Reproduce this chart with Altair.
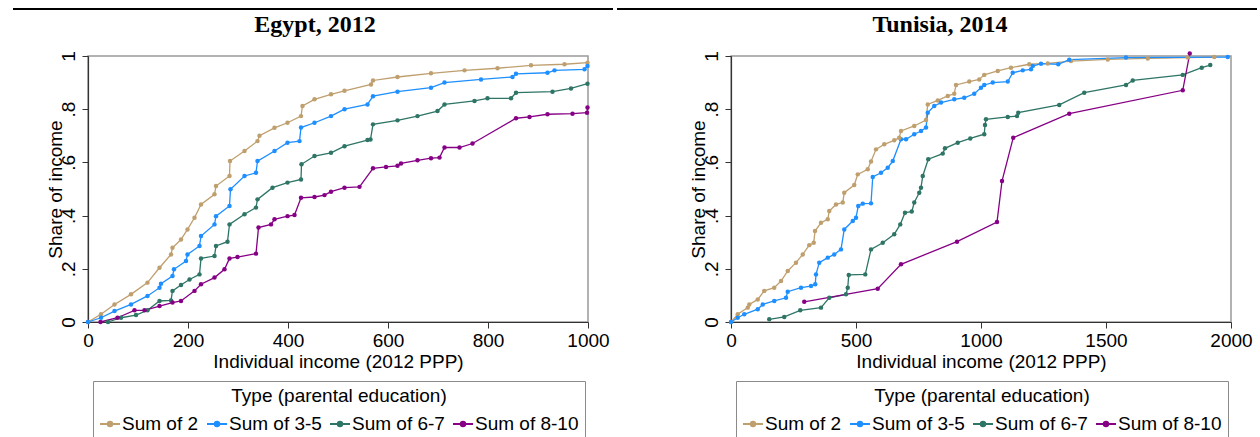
import altair as alt
import pandas as pd

types = ["Sum of 2", "Sum of 3-5", "Sum of 6-7", "Sum of 8-10"]
colors = ["#BF9F6E", "#1E8FFF", "#2E7566", "#860086"]

# ---------------- Egypt, 2012 ----------------
egy_2_x = [0, 26, 53, 86, 119, 143, 166, 169, 186, 199, 213, 226, 253, 256, 283, 284, 313, 339, 343, 373,
           399, 426, 429, 453, 486, 513, 566, 570, 619, 686, 753, 819, 886, 953, 999]
egy_2_y = [0, .029, .066, .104, .148, .204, .254, .279, .31, .348, .392, .442, .48, .511, .549, .605, .643, .68, .70, .73,
           .749, .774, .812, .837, .856, .869, .893, .908, .921, .935, .946, .954, .965, .969, .975]

egy_35_x = [0, 26, 53, 86, 119, 143, 146, 169, 172, 196, 199, 223, 226, 253, 256, 283, 285, 313, 336, 339,
            373, 399, 423, 426, 453, 486, 513, 559, 570, 619, 686, 713, 786, 849, 856, 919, 933, 993, 999]
egy_35_y = [0, .016, .041, .066, .098, .129, .144, .173, .198, .229, .254, .286, .323, .367, .398, .436, .499, .549, .561, .605,
            .643, .674, .680, .731, .749, .774, .800, .818, .849, .866, .881, .900, .912, .921, .933, .937, .946, .950, .962]

egy_67_x = [40, 66, 96, 119, 143, 166, 169, 186, 203, 223, 226, 253, 256, 279, 283, 313, 336, 339, 369, 399,
            426, 427, 453, 486, 513, 559, 565, 570, 619, 659, 699, 713, 773, 799, 846, 856, 929, 966, 999]
egy_67_y = [0, .016, .026, .044, .079, .081, .117, .139, .160, .179, .239, .248, .286, .302, .367, .405, .430, .461, .505, .524,
            .536, .593, .624, .636, .661, .684, .686, .743, .758, .774, .793, .818, .831, .841, .841, .862, .866, .878, .896]

egy_810_x = [25, 59, 93, 113, 143, 169, 186, 213, 226, 253, 273, 283, 299, 336, 341, 366, 373, 399, 413, 426,
             453, 473, 486, 513, 543, 570, 596, 619, 626, 659, 686, 703, 713, 743, 769, 856, 883, 919, 969, 998, 999]
egy_810_y = [0, .016, .044, .044, .06, .073, .079, .117, .142, .167, .198, .239, .244, .257, .355, .367, .386, .398, .402, .467,
             .47, .477, .49, .505, .508, .578, .583, .587, .596, .608, .616, .618, .656, .656, .671, .766, .771, .781, .783, .787, .806]

# ---------------- Tunisia, 2014 ----------------
tun_2_x = [0, 27, 67, 73, 107, 133, 173, 200, 227, 260, 287, 313, 331, 336, 360, 387, 393, 420, 447, 453,
           493, 507, 547, 560, 580, 613, 653, 673, 680, 733, 780, 787, 827, 867, 893, 900, 953, 993, 1013, 1067,
           1120, 1193, 1267, 1360, 1507, 1667, 1827, 1933]
tun_2_y = [0, .029, .054, .066, .085, .117, .129, .154, .192, .223, .254, .289, .298, .342, .373, .386, .417, .442, .449, .486,
           .515, .555, .574, .603, .649, .668, .683, .693, .718, .737, .759, .818, .833, .85, .858, .891, .904, .912, .929, .944,
           .956, .969, .972, .981, .987, .991, .994, .996]

tun_35_x = [0, 27, 53, 107, 127, 173, 220, 227, 280, 320, 337, 340, 353, 387, 413, 440, 453, 487, 500, 509,
            527, 560, 567, 600, 627, 647, 680, 700, 733, 760, 780, 787, 813, 840, 893, 933, 973, 1000, 1013, 1047,
            1107, 1127, 1167, 1200, 1207, 1240, 1309, 1353, 1580, 1987]
tun_35_y = [0, .016, .029, .048, .066, .079, .091, .114, .129, .135, .142, .179, .223, .242, .254, .273, .348, .380, .392, .436,
            .445, .446, .545, .561, .580, .605, .687, .687, .706, .718, .731, .787, .812, .825, .837, .843, .858, .881, .891, .900,
            .904, .937, .946, .950, .962, .971, .969, .986, .994, .996]

tun_67_x = [153, 213, 277, 360, 393, 460, 467, 471, 537, 560, 607, 653, 677, 696, 723, 733, 753, 760, 767, 789,
            847, 856, 907, 957, 1013, 1016, 1020, 1107, 1144, 1149, 1313, 1413, 1580, 1607, 1807, 1883, 1917]
tun_67_y = [.01, .019, .044, .054, .091, .104, .129, .177, .179, .273, .298, .330, .367, .411, .415, .449, .486, .505, .549, .612,
            .633, .653, .674, .690, .706, .741, .762, .771, .774, .787, .816, .862, .891, .908, .929, .956, .966]

tun_810_x = [293, 587, 680, 904, 1064, 1084, 1129, 1353, 1807, 1835]
tun_810_y = [.076, .125, .217, .302, .376, .530, .693, .783, .871, 1.009]

panel_titles = ["Egypt, 2012", "Tunisia, 2014"]


def long_table(series):
    rows = []
    for order, (name, xs, ys) in enumerate(series):
        assert len(xs) == len(ys), name
        for i, (xv, yv) in enumerate(zip(xs, ys)):
            rows.append({"type": name, "order": order, "i": i, "income": xv, "share": yv})
    return pd.DataFrame(rows)


egypt = long_table([(types[0], egy_2_x, egy_2_y), (types[1], egy_35_x, egy_35_y),
                    (types[2], egy_67_x, egy_67_y), (types[3], egy_810_x, egy_810_y)])
tunisia = long_table([(types[0], tun_2_x, tun_2_y), (types[1], tun_35_x, tun_35_y),
                      (types[2], tun_67_x, tun_67_y), (types[3], tun_810_x, tun_810_y)])

FONT = "Liberation Sans"
SYMBOL = "M-1,0L1,0M-0.22,0A0.22,0.22 0 1,1 0.22,0A0.22,0.22 0 1,1 -0.22,0Z"

y_label_expr = "datum.value == 0 ? '0' : datum.value == 1 ? '1' : replace(format(datum.value, '.1f'), '0.', '.')"


def panel(df, title, xmax, xstep, title_x, rule_x, rule_x2):
    legend = alt.Legend(
        orient="none", legendX=5, legendY=325, direction="horizontal",
        title="Type (parental education)", titleAnchor="middle", titleFont=FONT,
        titleFontSize=19, titleFontWeight="normal", titleColor="black", titlePadding=7,
        titleLimit=600, labelLimit=300,
        labelFont=FONT, labelFontSize=19, labelColor="black", labelOffset=1,
        symbolType=SYMBOL, symbolSize=400, symbolStrokeWidth=2, columnPadding=4,
        strokeColor="#8a8a8a", padding=6, fillColor="white", cornerRadius=0,
    )
    lines = alt.Chart(df).mark_line(
        strokeWidth=1.3,
        point=alt.OverlayMarkDef(filled=True, size=20),
    ).encode(
        x=alt.X("income:Q", scale=alt.Scale(domain=[0, xmax], nice=False),
                axis=alt.Axis(title="Individual income (2012 PPP)", values=list(range(0, xmax + 1, xstep)),
                              format="d", labelFlush=False, labelOverlap=False, tickSize=6, labelPadding=3,
                              titlePadding=2)),
        y=alt.Y("share:Q", scale=alt.Scale(domain=[0, 1], nice=False),
                axis=alt.Axis(title="Share of income", values=[0, .2, .4, .6, .8, 1],
                              labelExpr=y_label_expr, labelAngle=-90, labelAlign="center",
                              labelBaseline="alphabetic", labelPadding=8, tickSize=6,
                              labelFlush=False, labelOverlap=False,
                              titleX=-27, titleBaseline="alphabetic")),
        color=alt.Color("type:N", scale=alt.Scale(domain=types, range=colors), legend=legend),
        detail="type:N",
        order="i:Q",
    )
    one = pd.DataFrame({"a": [0]})
    rule = alt.Chart(one).mark_rule(color="black", strokeWidth=2).encode(
        x=alt.value(rule_x), x2=alt.value(rule_x2), y=alt.value(-47)
    )
    head = alt.Chart(one).mark_text(
        text=title, font="Liberation Serif", fontSize=24, fontWeight="bold",
        align="center", baseline="alphabetic", color="black",
    ).encode(x=alt.value(title_x), y=alt.value(-24))
    return alt.layer(rule, head, lines).properties(width=500, height=266)


left = panel(egypt, panel_titles[0], 1000, 200, 227, -75, 525)
right = panel(tunisia, panel_titles[1], 2000, 500, 209, -114, 526)

chart = alt.hconcat(left, right, spacing=0).resolve_legend(color="independent").resolve_scale(
    color="independent", x="independent"
).properties(
    padding={"left": 11, "top": 7, "right": 0, "bottom": 0}
).configure_view(
    stroke="#999999", strokeWidth=1.5
).configure_axis(
    grid=False, domainColor="#333333", tickColor="#333333", labelFont=FONT, titleFont=FONT,
    labelFontSize=19, titleFontSize=19, labelColor="black", titleColor="black",
    titleFontWeight="normal", domainWidth=1.2
)

chart.save("out.html", embed_options={"renderer": "svg", "actions": False})
